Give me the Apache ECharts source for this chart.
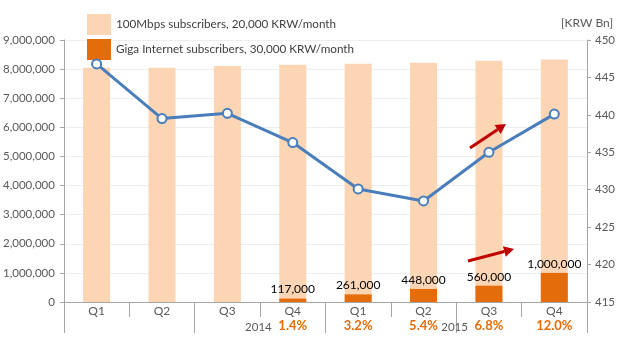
<!DOCTYPE html>
<html><head><meta charset="utf-8">
<script src="https://cdn.jsdelivr.net/npm/echarts@6/dist/echarts.min.js"></script>
<style>html,body{margin:0;padding:0;background:#fff}#c{width:622px;height:341px}</style>
</head><body><div id="c"></div>
<script>
const quarters = ['Q1','Q2','Q3','Q4','Q1','Q2','Q3','Q4'];
const years = ['','','','2014','','','2015',''];
const shares = ['','','','1.4%','3.2%','5.4%','6.8%','12.0%'];
const subs100M = [8050000,8050000,8110000,8150000,8180000,8220000,8290000,8330000];
const subsGiga = [null,null,null,117000,261000,448000,560000,1000000];
const revenue = [446.8,439.5,440.2,436.3,430.1,428.5,435.0,440.1];
const leftTicks = {min:0,max:9000000,interval:1000000};
const rightTicks = {min:415,max:450,interval:5};
const name100 = '100Mbps subscribers, 20,000 KRW/month';
const nameGiga = 'Giga Internet subscribers, 30,000 KRW/month';
const unitName = '[KRW Bn]';

function comma(v){return String(v).replace(/\B(?=(\d{3})+(?!\d))/g, ',');}
const FONT = 'Lato';
const GREY = '#595959';
const AX = '#a6a6a6';

function arrow(x1,y1,x2,y2){
  const dx=x2-x1, dy=y2-y1, L=Math.hypot(dx,dy), ux=dx/L, uy=dy/L;
  const bx=x2-10*ux, by=y2-10*uy, nx=-uy, ny=ux;
  return [
    {type:'line',z:100,shape:{x1:x1,y1:y1,x2:bx,y2:by},style:{stroke:'#c00000',lineWidth:3}},
    {type:'polygon',z:100,shape:{points:[[x2,y2],[bx+5.5*nx,by+5.5*ny],[bx-5.5*nx,by-5.5*ny]]},style:{fill:'#c00000'}}
  ];
}

const chart = echarts.init(document.getElementById('c'));
chart.setOption({
  animation:false,
  textStyle:{fontFamily:FONT},
  grid:{left:61,right:35,top:40,bottom:39},
  legend:{
    data:[name100,nameGiga], orient:'vertical', left:82, top:9, itemWidth:24, itemHeight:21, itemGap:4,
    icon:'rect', textStyle:{fontFamily:FONT,fontSize:11.7,color:'#404040'}
  },
  xAxis:[
    {type:'category',data:quarters,position:'bottom',
     axisLine:{lineStyle:{color:AX,width:1}},
     axisTick:{show:true,interval:0,length:15,lineStyle:{color:AX}},
     axisLabel:{color:GREY,fontSize:12,margin:3,interval:0,fontFamily:FONT}},
    {type:'category',data:['','','',''],position:'bottom',
     axisLine:{show:false},axisTick:{show:true,interval:0,length:31,lineStyle:{color:AX}},
     axisLabel:{show:false}},
    {type:'category',data:shares,position:'bottom',
     axisLine:{show:false},axisTick:{show:false},
     axisLabel:{interval:0,margin:17,color:'#e46c0a',fontSize:13,fontWeight:'bold',fontFamily:FONT}},
    {type:'category',data:years,position:'bottom',
     axisLine:{show:false},axisTick:{show:false},
     axisLabel:{interval:0,margin:19,color:GREY,fontSize:11.5,align:'right',padding:[0,21,0,0],fontFamily:FONT}}
  ],
  yAxis:[
    {type:'value',min:leftTicks.min,max:leftTicks.max,interval:leftTicks.interval,
     axisLine:{show:true,lineStyle:{color:AX}},
     axisTick:{show:true,length:4,lineStyle:{color:AX}},
     axisLabel:{color:GREY,fontSize:11.5,margin:9,formatter:v=>comma(v),fontFamily:FONT},
     splitLine:{lineStyle:{color:'#eeeeee'}}},
    {type:'value',min:rightTicks.min,max:rightTicks.max,interval:rightTicks.interval,position:'right',
     name:unitName,nameLocation:'end',nameGap:11,
     nameTextStyle:{color:GREY,fontSize:12,align:'center',fontFamily:FONT},
     axisLine:{show:true,lineStyle:{color:AX}},
     axisTick:{show:true,length:4,lineStyle:{color:AX}},
     axisLabel:{color:GREY,fontSize:11.5,margin:8,fontFamily:FONT},
     splitLine:{show:false}}
  ],
  series:[
    {name:name100,type:'bar',data:subs100M,barWidth:27,barGap:'-100%',
     itemStyle:{color:'#fcd5b5'},z:1},
    {name:nameGiga,type:'bar',data:subsGiga,barWidth:27,
     itemStyle:{color:'#e46c0a'},z:2,
     label:{show:true,position:'top',distance:3,color:'#000',fontSize:12,fontFamily:FONT,
            formatter:p=>comma(p.value)}},
    {name:'revenue',type:'line',yAxisIndex:1,data:revenue,
     lineStyle:{color:'#4a7ebb',width:3},
     symbol:'circle',symbolSize:9,
     itemStyle:{color:'#ffffff',borderColor:'#4a7ebb',borderWidth:2},z:5}
  ],
  graphic:[].concat(arrow(470,148,506,124), arrow(468,261,514,249))
});
</script></body></html>
